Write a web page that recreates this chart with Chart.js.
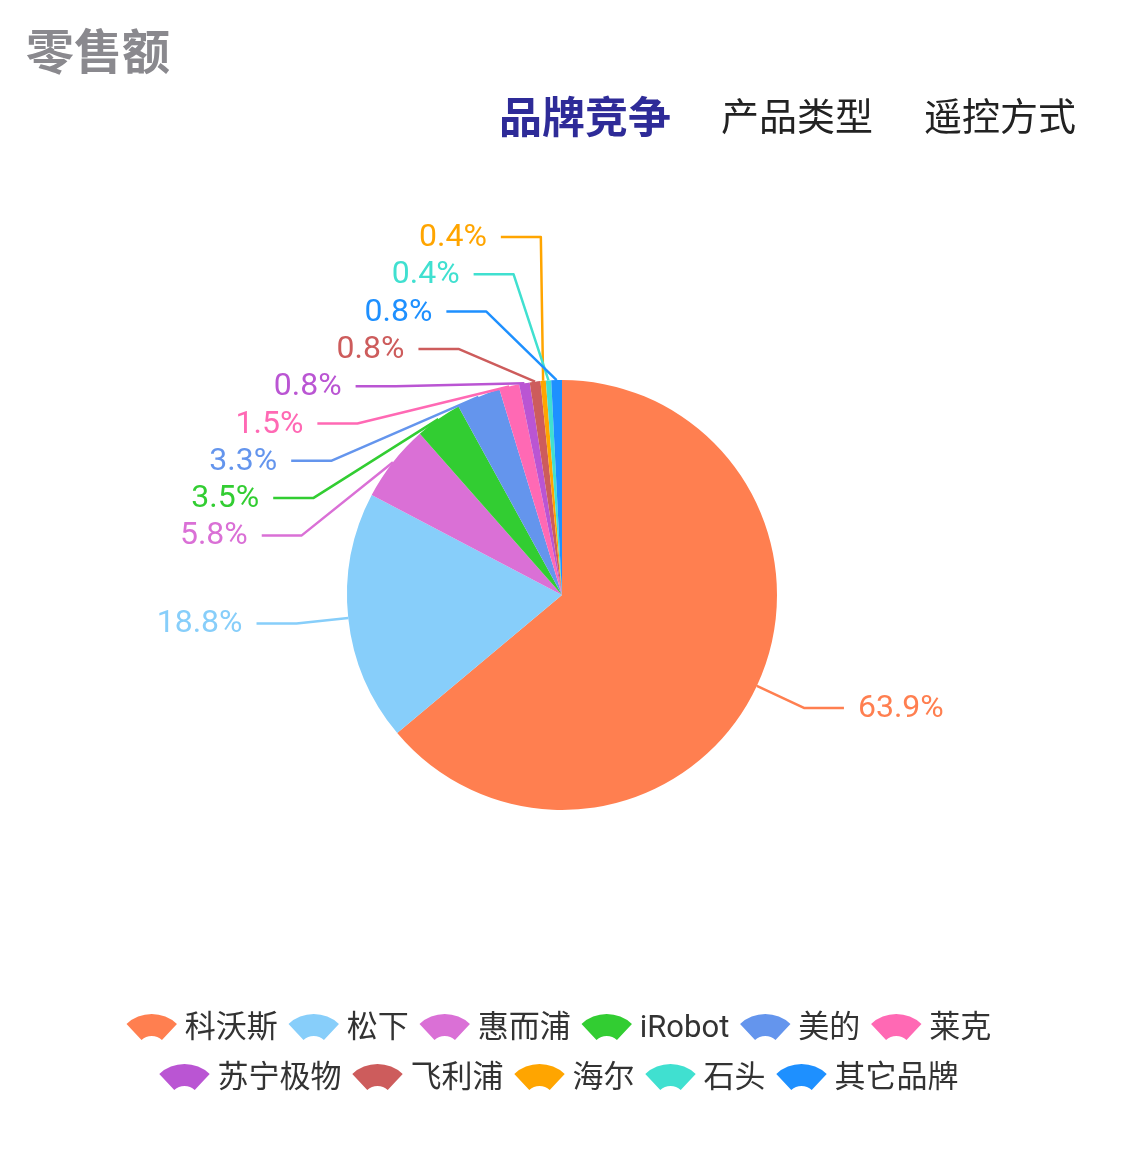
<!DOCTYPE html>
<html>
<head>
<meta charset="utf-8">
<script src="https://cdn.jsdelivr.net/npm/chart.js@4.4.1/dist/chart.umd.min.js"></script>
<style>
  html, body { margin: 0; padding: 0; background: #fff; }
  body { width: 1121px; height: 1150px; position: relative; overflow: hidden;
         font-family: Roboto, 'Noto Sans CJK SC', sans-serif; }
  #sales-chart { position: absolute; left: 0; top: 0; }
  .title { position: absolute; left: 26px; top: 24px; font-size: 48px; line-height: 48px;
           font-weight: 700; color: #8a898e; font-family: 'Noto Sans CJK SC', sans-serif; }
  .tab { position: absolute; top: 92px; font-size: 38px; line-height: 44px; color: #222;
         font-family: 'Noto Sans CJK SC', sans-serif; white-space: nowrap; }
  .tab.active { color: #2e2b98; font-weight: 700; font-size: 43px; }
</style>
</head>
<body>
<canvas id="sales-chart" width="1121" height="1150"></canvas>
<div class="title" id="title"></div>
<div id="tabs"></div>
<script>
const chartTitle = '零售额'
const tabNames = ['品牌竞争', '产品类型', '遥控方式']
const brands = ['科沃斯', '松下', '惠而浦', 'iRobot', '美的', '莱克', '苏宁极物', '飞利浦', '海尔', '石头', '其它品牌']
const shares = [63.9, 18.8, 5.8, 3.5, 3.3, 1.5, 0.8, 0.8, 0.4, 0.4, 0.8]
const brandColors = ['#ff7f50', '#87cefa', '#da70d6', '#32cd32', '#6495ed', '#ff69b4',
  '#ba55d3', '#cd5c5c', '#ffa500', '#40e0d0', '#1e90ff']

document.getElementById('title').textContent = chartTitle
const tabLeft = [499, 721, 924]
document.getElementById('tabs').innerHTML = tabNames.map((t, i) =>
  `<div class="tab${i === 0 ? ' active' : ''}" style="left:${tabLeft[i]}px">${t}</div>`
).join('')

/* ---- outside labels with two-segment leader lines ---- */
const pieLabels = {
  id: 'pieLabels',
  afterDatasetsDraw(chart) {
    const { ctx } = chart
    const ds = chart.data.datasets[0]
    const arcs = chart.getDatasetMeta(0).data
    const len1 = 52, len2 = 40, gap = 14, lineH = 37.3, minY = 237

    const items = arcs.map((arc, i) => {
      const p = arc.getProps(['x', 'y', 'startAngle', 'endAngle', 'outerRadius'], true)
      const mid = (p.startAngle + p.endAngle) / 2
      const R = p.outerRadius + len1
      return {
        i, cx: p.x, cy: p.y, R,
        ex: p.x + p.outerRadius * Math.cos(mid),
        ey: p.y + p.outerRadius * Math.sin(mid),
        ty: p.y + R * Math.sin(mid),
        right: Math.cos(mid) >= 0
      }
    })

    const distribute = (list) => {
      list.sort((a, b) => a.ty - b.ty)
      const boxes = list.map(it => ({ items: [it], targets: [it.ty] }))
      let moved = true
      while (moved) {
        boxes.forEach(b => {
          const mean = b.targets.reduce((s, v) => s + v, 0) / b.targets.length
          b.top = Math.max(minY, mean - (b.items.length - 1) * lineH / 2)
        })
        moved = false
        for (let k = boxes.length - 1; k > 0; k--) {
          const prev = boxes[k - 1], cur = boxes[k]
          if (prev.top + prev.items.length * lineH > cur.top + 0.01) {
            prev.items = prev.items.concat(cur.items)
            prev.targets = prev.targets.concat(cur.targets)
            boxes.splice(k, 1)
            moved = true
          }
        }
      }
      boxes.forEach(b => b.items.forEach((it, n) => { it.ly = b.top + n * lineH }))
      // labels pushed past the top of the ring wrap round in reverse order
      const over = list.filter(it => it.ly < it.cy - it.R)
      const slots = over.map(it => it.ly).reverse()
      over.forEach((it, n) => { it.ly = slots[n] })
    }
    distribute(items.filter(it => !it.right))
    distribute(items.filter(it => it.right))

    ctx.save()
    ctx.lineWidth = 2.5
    ctx.lineJoin = 'round'
    ctx.font = '32px Roboto, "Noto Sans CJK SC", sans-serif'
    ctx.textBaseline = 'middle'
    items.forEach(it => {
      const dir = it.right ? 1 : -1
      const dy = Math.abs(it.ly - it.cy)
      const circ = dy < it.R ? Math.sqrt(it.R * it.R - dy * dy) : 0
      const dx = dy < it.R * 0.9 ? circ : Math.max(circ, 0.73 * (it.R + 120 - dy), 0)
      const bx = it.cx + dir * dx
      const color = ds.backgroundColor[it.i]
      ctx.strokeStyle = color
      ctx.fillStyle = color
      ctx.beginPath()
      ctx.moveTo(it.ex, it.ey)
      ctx.lineTo(bx, it.ly)
      ctx.lineTo(bx + dir * len2, it.ly)
      ctx.stroke()
      ctx.textAlign = it.right ? 'left' : 'right'
      ctx.fillText(ds.data[it.i].toFixed(1) + '%', bx + dir * (len2 + gap), it.ly + 1)
    })
    ctx.restore()
  }
}

/* ---- fan-shaped legend, centred rows ---- */
const fanLegend = {
  id: 'fanLegend',
  afterDraw(chart, args, opts) {
    const { ctx } = chart
    const ds = chart.data.datasets[0]
    const iconW = 50, iconGap = 8, itemGap = 11
    ctx.save()
    ctx.font = '31px Roboto, "Noto Sans CJK SC", sans-serif'
    const widths = chart.data.labels.map(l => iconW + iconGap + ctx.measureText(l).width)
    const rows = [[]]
    let rowW = 0
    widths.forEach((w, i) => {
      const add = rows[rows.length - 1].length ? itemGap + w : w
      if (rowW + add > opts.maxWidth && rows[rows.length - 1].length) {
        rows.push([i]); rowW = w
      } else {
        rows[rows.length - 1].push(i); rowW += add
      }
    })
    ctx.textBaseline = 'middle'
    ctx.textAlign = 'left'
    rows.forEach((row, r) => {
      const total = row.reduce((s, i) => s + widths[i], 0) + itemGap * (row.length - 1)
      let x = opts.centerX - total / 2
      const yc = opts.top + r * opts.rowHeight
      row.forEach(i => {
        const fx = x + iconW / 2, fy = yc + 23
        const a0 = -Math.PI / 2 - 0.75, a1 = -Math.PI / 2 + 0.75
        ctx.fillStyle = ds.backgroundColor[i]
        ctx.beginPath()
        ctx.arc(fx, fy, 37, a0, a1)
        ctx.arc(fx, fy, 15, a1, a0, true)
        ctx.closePath()
        ctx.fill()
        ctx.fillStyle = '#333'
        ctx.fillText(chart.data.labels[i], x + iconW + iconGap, yc + 1)
        x += widths[i] + itemGap
      })
    })
    ctx.restore()
  }
}

new Chart(document.getElementById('sales-chart'), {
  type: 'pie',
  data: {
    labels: brands,
    datasets: [{
      data: shares,
      backgroundColor: brandColors,
      borderWidth: 0,
      hoverOffset: 0,
      radius: 215
    }]
  },
  options: {
    responsive: false,
    animation: false,
    events: [],
    layout: { padding: { top: 380, bottom: 340, left: 3, right: 0 } },
    plugins: {
      legend: { display: false },
      tooltip: { enabled: false },
      fanLegend: { top: 1028, rowHeight: 50, centerX: 559, maxWidth: 900 }
    }
  },
  plugins: [pieLabels, fanLegend]
})
</script>
</body>
</html>
